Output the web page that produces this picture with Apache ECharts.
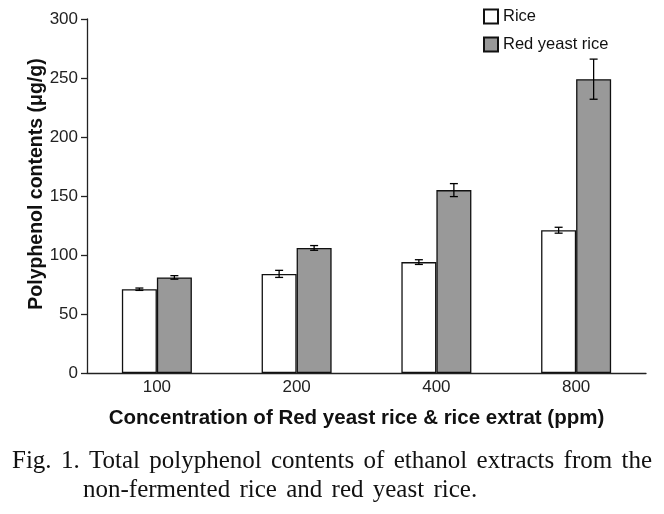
<!DOCTYPE html>
<html><head><meta charset="utf-8">
<script src="https://cdn.jsdelivr.net/npm/echarts@6/dist/echarts.min.js"></script>
<style>html,body{margin:0;padding:0;background:#fff}#c{width:664px;height:514px}</style>
</head><body><div id="c"></div>
<script>
const categories = ['100', '200', '400', '800'];
const rice = [71, 84, 94, 121];
const riceErr = [1, 3, 2, 2.5];
const redYeast = [81, 106, 155, 249];
const redYeastErr = [1.5, 2, 5.5, 17];
const yTicks = [0, 50, 100, 150, 200, 250, 300];
const captionLine1 = 'Fig. 1. Total polyphenol contents of ethanol extracts from the';
const captionLine2 = 'non-fermented rice and red yeast rice.';

const BW = 35;
const chart = echarts.init(document.getElementById('c'));
function errSeries(vals, errs, side) {
  return {
    type: 'custom', silent: true, z: 10,
    data: vals.map((v, i) => [i, v - errs[i], v + errs[i]]),
    renderItem: function (params, api) {
      const c0 = api.coord([api.value(0), api.value(1)]);
      const c1 = api.coord([api.value(0), api.value(2)]);
      const x = c0[0] + side * BW / 2;
      const w = 4;
      const st = { stroke: '#000', lineWidth: 1.3 };
      return { type: 'group', children: [
        { type: 'line', shape: { x1: x, y1: c0[1], x2: x, y2: c1[1] }, style: st },
        { type: 'line', shape: { x1: x - w, y1: c0[1], x2: x + w, y2: c0[1] }, style: st },
        { type: 'line', shape: { x1: x - w, y1: c1[1], x2: x + w, y2: c1[1] }, style: st }
      ]};
    }
  };
}
// justified caption layout
const capFont = '25px "Liberation Serif", "Times New Roman", serif';
const ctx = document.createElement('canvas').getContext('2d');
ctx.font = capFont;
const mw = w => ctx.measureText(w).width;
const w1 = captionLine1.split(' ');
const sum1 = w1.reduce((s, w) => s + mw(w), 0);
const gap = (652 - 12 - sum1) / (w1.length - 1);
const capGraphics = [];
function placeLine(words, x0, top) {
  let x = x0;
  words.forEach(w => {
    capGraphics.push({ type: 'text', x: x, y: top,
      style: { text: w, font: capFont, fill: '#111', textVerticalAlign: 'top' } });
    x += mw(w) + gap;
  });
}
placeLine(w1, 12, 449);
placeLine(captionLine2.split(' '), 83, 478);

chart.setOption({
  animation: false,
  grid: { left: 87, right: 18, top: 19, bottom: 141 },
  legend: {
    orient: 'vertical', left: 478, top: 3, itemWidth: 14, itemHeight: 14, itemGap: 11, icon: 'rect',
    textStyle: { fontFamily: 'Arial, Liberation Sans', fontSize: 16.5, color: '#111' },
    data: ['Rice', 'Red yeast rice']
  },
  xAxis: {
    type: 'category', data: categories,
    axisLine: { lineStyle: { color: '#222', width: 1.3 } },
    axisTick: { show: false },
    axisLabel: { color: '#222', fontSize: 17, fontFamily: 'Arial, Liberation Sans', margin: 6 },
    name: 'Concentration of Red yeast rice & rice extrat (ppm)',
    nameLocation: 'middle', nameGap: 35, nameMoveOverlap: false,
    nameTextStyle: { color: '#111', fontSize: 20.5, fontWeight: 'bold', fontFamily: 'Arial, Liberation Sans',
      padding: [0, 20, 0, 0] }
  },
  yAxis: {
    type: 'value', min: 0, max: 300, interval: 50,
    axisLine: { show: true, lineStyle: { color: '#222', width: 1.3 } },
    axisTick: { show: true, length: 6, lineStyle: { color: '#222', width: 1.3 } },
    splitLine: { show: false },
    axisLabel: { color: '#222', fontSize: 17, fontFamily: 'Arial, Liberation Sans', margin: 9,
      formatter: v => yTicks.includes(v) ? String(v) : '' },
    name: 'Polyphenol contents (μg/g)',
    nameLocation: 'middle', nameGap: 40, nameMoveOverlap: false,
    nameTextStyle: { color: '#111', fontSize: 19.5, fontWeight: 'bold', fontFamily: 'Arial, Liberation Sans',
      padding: [0, 0, 0, 24] }
  },
  series: [
    { name: 'Rice', type: 'bar', data: rice, barWidth: BW, barGap: '0%',
      itemStyle: { color: '#fff', borderColor: '#111', borderWidth: 1.3 } },
    { name: 'Red yeast rice', type: 'bar', data: redYeast, barWidth: BW, barGap: '0%',
      itemStyle: { color: '#999', borderColor: '#111', borderWidth: 1.3 } },
    errSeries(rice, riceErr, -1),
    errSeries(redYeast, redYeastErr, 1)
  ],
  graphic: capGraphics
});
</script></body></html>
